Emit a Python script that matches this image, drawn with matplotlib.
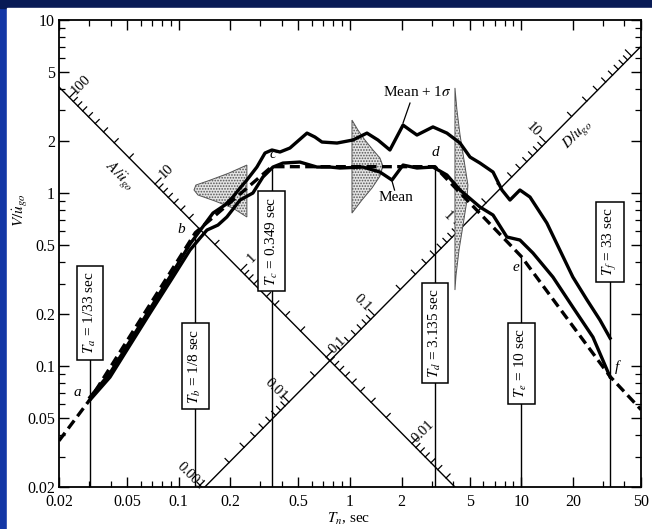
import numpy as np
import matplotlib
matplotlib.use("Agg")
import matplotlib.pyplot as plt
from matplotlib.patches import Rectangle
from matplotlib.ticker import FixedLocator, FixedFormatter, LogLocator, NullFormatter

plt.rcParams['font.family'] = ['Liberation Serif', 'DejaVu Serif']
plt.rcParams['mathtext.fontset'] = 'stix'
plt.rcParams['hatch.color'] = '#8a8a8a'
plt.rcParams['hatch.linewidth'] = 0.8

# ---- data ----
# mean + 1 sigma spectrum
T_sig = [0.0303, 0.0397, 0.0519, 0.068, 0.0926, 0.1163, 0.1386, 0.1585, 0.186, 0.207,
         0.228, 0.250, 0.286, 0.319, 0.350, 0.390, 0.446, 0.561, 0.624, 0.686,
         0.840, 1.04, 1.256, 1.456, 1.71, 2.04, 2.24, 2.46, 3.05, 3.68,
         4.39, 5.02, 5.74, 6.84, 7.71, 8.59, 9.82, 11.24, 14.1, 16.8,
         20.0, 24.2, 28.8, 33.0]
V_sig = [0.066, 0.0911, 0.139, 0.214, 0.350, 0.507, 0.64, 0.766, 0.852, 0.948,
         1.069, 1.189, 1.413, 1.703, 1.773, 1.726, 1.82, 2.22, 2.107, 1.971,
         1.945, 2.025, 2.22, 2.025, 1.773, 2.47, 2.31, 2.164, 2.41, 2.22,
         1.945, 1.614, 1.49, 1.322, 1.041, 0.911, 1.041, 0.948, 0.671, 0.468,
         0.327, 0.241, 0.1845, 0.145]

# mean spectrum
T_mean = [0.0303, 0.0397, 0.0519, 0.068, 0.0926, 0.1163, 0.1331, 0.1462, 0.1695, 0.191,
          0.228, 0.271, 0.310, 0.355, 0.406, 0.510, 0.641, 0.764, 0.873, 1.191,
          1.496, 1.758, 2.04, 2.46, 3.05, 3.68, 4.39, 5.74, 6.84, 8.24,
          9.82, 11.7, 15.3, 20.0, 26.2, 33.0]
V_mean = [0.0636, 0.0863, 0.132, 0.2024, 0.327, 0.468, 0.549, 0.611, 0.653, 0.727,
          0.911, 1.0, 1.237, 1.413, 1.49, 1.51, 1.413, 1.413, 1.395, 1.413,
          1.322, 1.189, 1.451, 1.395, 1.413, 1.271, 1.041, 0.830, 0.746, 0.557,
          0.535, 0.450, 0.327, 0.219, 0.147, 0.0864]

# idealized (dashed) spectrum
T_design = [0.02, 1/33, 1/8, 0.349, 3.135, 10.0, 33.0, 50.0]
V_design = [0.037, 0.064, 0.59, 1.42, 1.42, 0.43, 0.087, 0.056]
pt_names = ['', 'a', 'b', 'c', 'd', 'e', 'f', '']

# period lines
T_lines = [1/33, 1/8, 0.349, 3.135, 10.0, 33.0]
T_text = ['$T_a$ = 1/33 sec', '$T_b$ = 1/8 sec', '$T_c$ = 0.349 sec',
          '$T_d$ = 3.135 sec', '$T_e$ = 10 sec', '$T_f$ = 33 sec']
V_box = [0.2025, 0.1, 0.528, 0.155, 0.104, 0.521]
V_linetop = [0.2025, 0.59, 1.42, 1.42, 0.43, 0.521]

# probability distributions (shaded)
dist1_T = [0.250, 0.195, 0.150, 0.126, 0.1228, 0.1296, 0.1628, 0.207, 0.250]
dist1_V = [1.451, 1.30, 1.18, 1.112, 1.041, 0.974, 0.899, 0.819, 0.727]
dist2_T = [1.027, 1.113, 1.222, 1.362, 1.496, 1.557, 1.496, 1.344, 1.174, 1.027]
dist2_V = [2.64, 2.31, 2.025, 1.773, 1.593, 1.432, 1.254, 1.069, 0.911, 0.766]
dist3_T = [4.10, 4.21, 4.39, 4.63, 4.88, 4.82, 4.57, 4.33, 4.16, 4.10]
dist3_V = [4.05, 3.02, 2.164, 1.551, 1.112, 0.911, 0.653, 0.468, 0.336, 0.275]

# tripartite axes: A-line V*T = const, D-line V/T = const
A_const = 0.082
D_const = 0.1408
A_ref_T = 0.23   # A/ugo = (A_ref_T/T)^2
D_ref_T = 0.44   # D/ugo = 0.01*(T/D_ref_T)^2
A_labels = [100, 10, 1, 0.1, 0.01]
D_labels = [0.001, 0.01, 0.1, 1, 10]

xticks = [0.02, 0.05, 0.1, 0.2, 0.5, 1, 2, 5, 10, 20, 50]
xtlabels = ['0.02', '0.05', '0.1', '0.2', '0.5', '1', '2', '5', '10', '20', '50']
yticks = [0.02, 0.05, 0.1, 0.2, 0.5, 1, 2, 5, 10]
ytlabels = ['0.02', '0.05', '0.1', '0.2', '0.5', '1', '2', '5', '10']

W, H = 652, 529
fig = plt.figure(figsize=(W / 100, H / 100), dpi=100)
fig.patch.set_facecolor('#0b2370')
fig.add_artist(Rectangle((0, 0), 7 / W, 1, transform=fig.transFigure, color='#1337a6', zorder=0))
fig.add_artist(Rectangle((0, 1 - 8 / H), 1, 8 / H, transform=fig.transFigure, color='#081a55', zorder=0))
fig.add_artist(Rectangle((7 / W, 0), 1, 1 - 8 / H, transform=fig.transFigure, color='white', zorder=0))

ax = fig.add_axes([59 / W, 42 / H, 582 / W, 467 / H])
ax.set_xscale('log')
ax.set_yscale('log')
ax.set_xlim(0.02, 50)
ax.set_ylim(0.02, 10)
ax.set_facecolor('none')

# px per decade
pxx = 582 / np.log10(2500)
pxy = 467 / np.log10(500)

# diagonal A line
TA = np.array([0.02, A_const / 0.02])
ax.plot(TA, A_const / TA, color='k', lw=1.0, zorder=2)
# diagonal D line
TD = np.array([0.139, 50])
ax.plot(TD, D_const * TD, color='k', lw=1.0, zorder=2)


def diag_tick(t, v, sx, sy, L):
    t2 = t * 10 ** (sx * L / pxx)
    v2 = v * 10 ** (sy * L / pxy)
    ax.plot([t, t2], [v, v2], color='k', lw=0.9, zorder=2)


# A ticks
for n in range(-3, 3):
    for k in range(1, 10):
        a = k * 10.0 ** n
        t = A_ref_T / np.sqrt(a)
        if 0.02 <= t <= A_const / 0.02:
            diag_tick(t, A_const / t, 1, 1, 6 if k == 1 else 4)
# D ticks
for n in range(-3, 3):
    for k in range(1, 10):
        d = k * 10.0 ** n
        t = D_ref_T * np.sqrt(d / 0.01)
        if 0.139 <= t <= 50:
            diag_tick(t, D_const * t, -1, 1, 6 if k == 1 else 4)

for a in A_labels:
    t = A_ref_T / np.sqrt(a)
    ax.annotate(f'{a:g}', (t, A_const / t), xytext=(8, 9), textcoords='offset points',
                rotation=45, fontsize=10.5, ha='center', va='center', zorder=3,
                annotation_clip=False)
for d in D_labels:
    t = D_ref_T * np.sqrt(d / 0.01)
    ax.annotate(f'{d:g}', (t, D_const * t), xytext=(-9, 9), textcoords='offset points',
                rotation=-45, fontsize=10.5, ha='center', va='center', zorder=3,
                annotation_clip=False)

ax.text(0.045, 1.25, r'$A/\ddot{u}_{go}$', rotation=-45, fontsize=11, ha='center', va='center')
ax.text(21.5, 2.15, r'$D/u_{go}$', rotation=45, fontsize=11, ha='center', va='center')

# shaded distributions
for dT, dV in [(dist1_T, dist1_V), (dist2_T, dist2_V), (dist3_T, dist3_V)]:
    ax.fill(dT, dV, facecolor='#e4e4e4', edgecolor='#555555', hatch='......', lw=0.7, zorder=3)

# period lines and boxes
for t, txt, vb, vt in zip(T_lines, T_text, V_box, V_linetop):
    ax.plot([t, t], [0.02, vt], color='k', lw=1.0, zorder=2)
    ax.text(t, vb, txt, rotation=90, fontsize=11, ha='center', va='center', zorder=6,
            bbox=dict(boxstyle='square,pad=0.35', facecolor='white', edgecolor='k', lw=1.1))

# spectra
ax.plot(T_design, V_design, color='k', lw=2.4, ls=(0, (3, 1.6)), zorder=4)
ax.plot(T_sig, V_sig, color='k', lw=2.4, zorder=5)
ax.plot(T_mean, V_mean, color='k', lw=2.4, zorder=5)

offs = {'a': (-9, 5), 'b': (-10, 2), 'c': (1, 9), 'd': (0, 10), 'e': (-4, -8), 'f': (5, 7)}
for t, v, nm in zip(T_design, V_design, pt_names):
    if nm:
        ax.annotate(nm, (t, v), xytext=offs[nm], textcoords='offset points', fontsize=11,
                    style='italic', ha='center', va='center', zorder=7)

ax.text(2.46, 3.84, r'Mean + 1$\sigma$', fontsize=11, ha='center', va='center', zorder=7)
ax.plot([2.24, 2.04], [3.31, 2.54], color='k', lw=0.9, zorder=7)
ax.text(1.86, 0.948, 'Mean', fontsize=11, ha='center', va='center', zorder=7)
ax.plot([1.76, 1.82], [1.17, 1.04], color='k', lw=0.9, zorder=7)

# axes ticks
ax.xaxis.set_major_locator(FixedLocator(xticks))
ax.xaxis.set_major_formatter(FixedFormatter(xtlabels))
ax.yaxis.set_major_locator(FixedLocator(yticks))
ax.yaxis.set_major_formatter(FixedFormatter(ytlabels))
ax.xaxis.set_minor_locator(LogLocator(base=10, subs=np.arange(2, 10), numticks=20))
ax.yaxis.set_minor_locator(LogLocator(base=10, subs=np.arange(2, 10), numticks=20))
ax.xaxis.set_minor_formatter(NullFormatter())
ax.yaxis.set_minor_formatter(NullFormatter())
ax.tick_params(which='both', direction='in', top=True, right=True, labelsize=11.5)
ax.tick_params(axis='x', pad=5)
ax.tick_params(axis='y', pad=3)
ax.tick_params(which='major', length=7, width=1.0)
ax.tick_params(which='minor', length=4, width=0.9)
for s in ax.spines.values():
    s.set_linewidth(1.3)

fig.text(20 / W, 1 - 210 / H, r'$V/\dot{u}_{go}$', rotation=90, fontsize=11, ha='center', va='center')
fig.text(349 / W, 1 - 519 / H, r'$T_n$, sec', fontsize=11, ha='center', va='center')

fig.savefig('out.png', dpi=100, facecolor=fig.get_facecolor())
